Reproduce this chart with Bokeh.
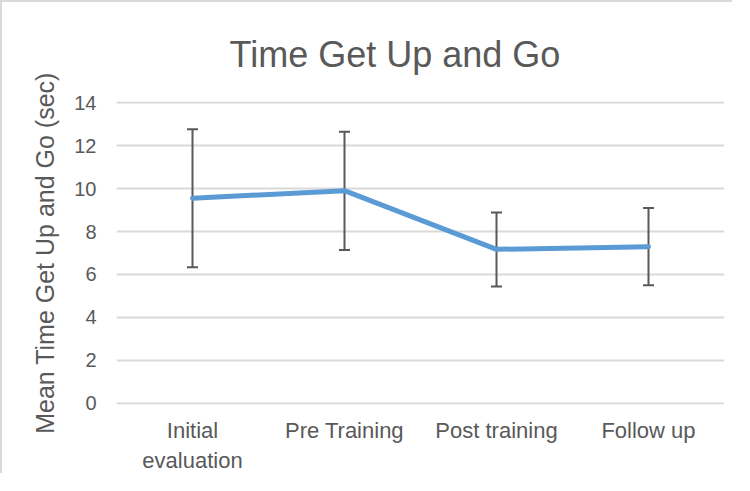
from bokeh.plotting import figure
from bokeh.models import ColumnDataSource, Range1d, FactorRange, Whisker, TeeHead, SingleIntervalTicker
from bokeh.embed import file_html
from bokeh.resources import INLINE

# ---- data ----
categories = ["Initial\nevaluation", "Pre Training", "Post training", "Follow up"]
means = [9.55, 9.9, 7.17, 7.29]
upper = [12.76, 12.64, 8.89, 9.09]
lower = [6.34, 7.14, 5.44, 5.50]
title_text = "Time Get Up and Go"
y_label = "Mean Time Get Up and Go (sec)"

FONT = "Liberation Sans"
TXT = "#595959"
GRID = "#d9d9d9"

src = ColumnDataSource(dict(x=categories, y=means, upper=upper, lower=lower))

p = figure(
    width=732, height=473,
    x_range=FactorRange(*categories, range_padding=0.0),
    y_range=Range1d(-0.05, 14.05),
    output_backend="svg", toolbar_location=None,
    min_border_left=114, min_border_right=10,
    min_border_top=99, min_border_bottom=70,
)
p.styles = {"border-top": "2px solid #d9d9d9", "border-left": "2px solid #d9d9d9"}
p.outline_line_color = None

p.title.text = title_text
p.title.text_font = FONT
p.title.text_font_size = "36px"
p.title.text_font_style = "normal"
p.title.text_color = TXT
p.title.align = "left"
p.title.offset = 113
p.title.standoff = 53

p.line("x", "y", source=src, line_color="#5b9bd5", line_width=5, line_join="round", line_cap="round")

w = Whisker(base="x", upper="upper", lower="lower", source=src,
            line_color="#595959", line_width=2,
            upper_head=TeeHead(size=11, line_color="#595959", line_width=2),
            lower_head=TeeHead(size=11, line_color="#595959", line_width=2))
p.add_layout(w)

p.yaxis.ticker = SingleIntervalTicker(interval=2)
p.yaxis.axis_label = y_label
p.yaxis.axis_label_text_font = FONT
p.yaxis.axis_label_text_font_size = "25px"
p.yaxis.axis_label_text_font_style = "normal"
p.yaxis.axis_label_text_color = TXT
p.yaxis.axis_label_standoff = 12

for ax in (p.xaxis, p.yaxis):
    ax.axis_line_color = None
    ax.major_tick_line_color = None
    ax.minor_tick_line_color = None
    ax.major_label_text_font = FONT
    ax.major_label_text_color = TXT

p.yaxis.major_label_text_font_size = "20px"
p.yaxis.major_label_standoff = 14
p.xaxis.major_label_text_font_size = "22px"
p.xaxis.major_label_standoff = 7
p.xaxis.major_label_orientation = "horizontal"

p.xgrid.grid_line_color = None
p.ygrid.grid_line_color = GRID
p.ygrid.grid_line_width = 2

open("out.html", "w").write(file_html(p, INLINE))
